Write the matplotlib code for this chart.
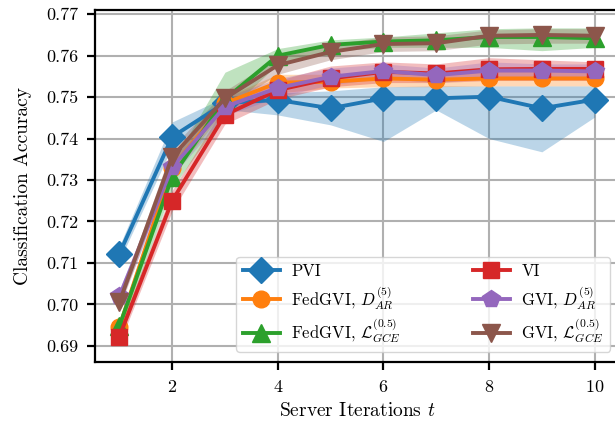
import matplotlib
matplotlib.use("Agg")
import matplotlib.pyplot as plt
from matplotlib.ticker import FormatStrFormatter
import numpy as np

plt.rcParams['font.family'] = 'serif'
plt.rcParams['font.serif'] = ['cmr10']
plt.rcParams['mathtext.fontset'] = 'cm'
plt.rcParams['axes.formatter.use_mathtext'] = True

iters = [1, 2, 3, 4, 5, 6, 7, 8, 9, 10]

# PVI
pvi = [0.7122, 0.7404, 0.7486, 0.7493, 0.7473, 0.7497, 0.7497, 0.7501, 0.7473, 0.7494]
pvi_lo = [0.7105, 0.7380, 0.7470, 0.7457, 0.7433, 0.7393, 0.7469, 0.7400, 0.7368, 0.7452]
pvi_hi = [0.7140, 0.7440, 0.7500, 0.7510, 0.7515, 0.7525, 0.7527, 0.7527, 0.7527, 0.7527]

# FedGVI, D_AR
fed_dar = [0.6945, 0.7330, 0.7485, 0.7535, 0.7537, 0.7545, 0.7542, 0.7545, 0.7545, 0.7545]
fed_dar_lo = [0.6930, 0.7310, 0.7470, 0.7510, 0.7522, 0.7525, 0.7525, 0.7527, 0.7527, 0.7527]
fed_dar_hi = [0.6960, 0.7350, 0.7500, 0.7555, 0.7555, 0.7562, 0.7560, 0.7562, 0.7562, 0.7562]

# FedGVI, L_GCE
fed_gce = [0.6947, 0.7308, 0.7495, 0.7600, 0.7626, 0.7634, 0.7637, 0.7645, 0.7645, 0.7642]
fed_gce_lo = [0.6930, 0.7280, 0.7460, 0.7580, 0.7610, 0.7620, 0.7620, 0.7620, 0.7612, 0.7620]
fed_gce_hi = [0.6965, 0.7340, 0.7560, 0.7617, 0.7638, 0.7645, 0.7655, 0.7665, 0.7667, 0.7667]

# VI
vi = [0.6922, 0.7250, 0.7457, 0.7517, 0.7545, 0.7561, 0.7557, 0.7567, 0.7568, 0.7568]
vi_lo = [0.6905, 0.7225, 0.7435, 0.7495, 0.7525, 0.7535, 0.7535, 0.7540, 0.7540, 0.7540]
vi_hi = [0.6940, 0.7275, 0.7480, 0.7540, 0.7575, 0.7585, 0.7580, 0.7595, 0.7590, 0.7585]

# GVI, D_AR
gvi_dar = [0.7019, 0.7331, 0.7477, 0.7522, 0.7549, 0.7563, 0.7553, 0.7564, 0.7564, 0.7562]
gvi_dar_lo = [0.7000, 0.7310, 0.7455, 0.7500, 0.7530, 0.7545, 0.7535, 0.7545, 0.7545, 0.7545]
gvi_dar_hi = [0.7035, 0.7355, 0.7500, 0.7545, 0.7570, 0.7580, 0.7570, 0.7585, 0.7580, 0.7580]

# GVI, L_GCE
gvi_gce = [0.7005, 0.7356, 0.7497, 0.7577, 0.7609, 0.7628, 0.7630, 0.7648, 0.7650, 0.7648]
gvi_gce_lo = [0.6990, 0.7335, 0.7475, 0.7555, 0.7590, 0.7610, 0.7612, 0.7628, 0.7630, 0.7630]
gvi_gce_hi = [0.7020, 0.7378, 0.7515, 0.7595, 0.7628, 0.7645, 0.7648, 0.7662, 0.7665, 0.7665]

series = [
    ("PVI", pvi, pvi_lo, pvi_hi, "C0", "D", 13),
    (r"FedGVI, $D_{AR}^{(5)}$", fed_dar, fed_dar_lo, fed_dar_hi, "C1", "o", 12),
    (r"FedGVI, $\mathcal{L}_{GCE}^{(0.5)}$", fed_gce, fed_gce_lo, fed_gce_hi, "C2", "^", 12.5),
    ("VI", vi, vi_lo, vi_hi, "C3", "s", 12),
    (r"GVI, $D_{AR}^{(5)}$", gvi_dar, gvi_dar_lo, gvi_dar_hi, "C4", "p", 13),
    (r"GVI, $\mathcal{L}_{GCE}^{(0.5)}$", gvi_gce, gvi_gce_lo, gvi_gce_hi, "C5", "v", 12.5),
]

fig = plt.figure(figsize=(6.15, 4.22), dpi=100)
ax = fig.add_axes([0.1545, 0.1422, 0.852, 0.834])

for label, mean, lo, hi, color, marker, ms in series:
    ax.fill_between(iters, lo, hi, color=color, alpha=0.3, linewidth=0)
    ax.plot(iters, mean, color=color, marker=marker, markersize=ms,
            linewidth=2.8, label=label)

ax.set_xlim(0.54, 10.46)
ax.set_ylim(0.6861, 0.771)
ax.set_xticks([2, 4, 6, 8, 10])
ax.set_yticks(np.arange(0.69, 0.7705, 0.01))
ax.yaxis.set_major_formatter(FormatStrFormatter('%.2f'))
ax.grid(True, color='#b0b0b0', linewidth=1.5)
ax.set_axisbelow(True)
for side in ['left', 'bottom', 'top', 'right']:
    ax.spines[side].set_linewidth(1.6)
ax.tick_params(direction='out', length=6, width=1.6, labelsize=13, pad=6)

ax.set_xlabel("Server Iterations $t$", fontsize=14, labelpad=5)
ax.set_ylabel("Classification Accuracy", fontsize=14, labelpad=10)

ax.legend(ncol=2, loc='lower right', bbox_to_anchor=(0.993, 0.015),
          fontsize=12, handlelength=2.2, handletextpad=0.7,
          columnspacing=4.3, labelspacing=0.3, borderpad=0.4,
          framealpha=0.8, borderaxespad=0.3)

fig.savefig("out.png", dpi=100)
